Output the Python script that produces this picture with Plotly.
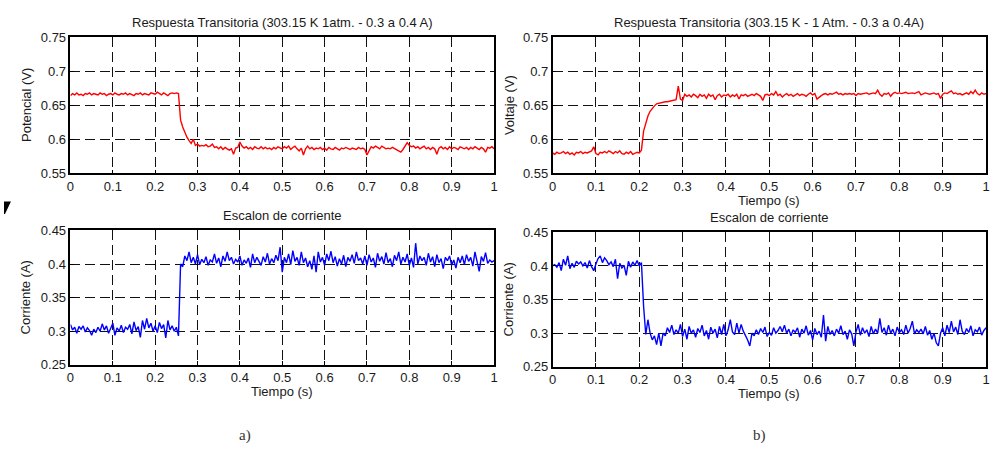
import plotly.graph_objects as go

W, H = 996, 457

# sample times (0 to 1 s, 5 ms spacing)
tiempo = [round(i * 0.005, 3) for i in range(201)]

potencial_a = [
    0.664,0.667,0.665,0.668,0.665,0.666,0.664,0.667,0.666,0.668,
    0.665,0.667,0.666,0.665,0.668,0.666,0.667,0.664,0.666,0.667,
    0.665,0.668,0.666,0.665,0.667,0.666,0.668,0.665,0.667,0.666,
    0.664,0.667,0.666,0.668,0.665,0.667,0.666,0.665,0.668,0.667,
    0.666,0.669,0.667,0.665,0.668,0.666,0.664,0.667,0.668,0.667,
    0.668,0.667,0.628,0.618,0.609,0.603,0.598,0.594,0.600,0.591,
    0.593,0.590,0.591,0.590,0.592,0.589,0.590,0.593,0.588,0.589,
    0.586,0.589,0.585,0.588,0.586,0.584,0.586,0.578,0.587,0.588,
    0.596,0.590,0.587,0.589,0.586,0.588,0.585,0.589,0.587,0.586,
    0.589,0.586,0.588,0.586,0.587,0.585,0.588,0.586,0.589,0.587,
    0.586,0.589,0.587,0.590,0.585,0.588,0.590,0.586,0.583,0.587,
    0.577,0.586,0.590,0.586,0.588,0.585,0.587,0.586,0.588,0.585,
    0.587,0.584,0.588,0.586,0.585,0.588,0.586,0.584,0.587,0.586,
    0.588,0.586,0.585,0.587,0.586,0.585,0.588,0.586,0.587,0.585,
    0.577,0.583,0.589,0.587,0.590,0.588,0.586,0.590,0.588,0.586,
    0.587,0.586,0.588,0.586,0.585,0.583,0.581,0.585,0.590,0.595,
    0.591,0.589,0.590,0.587,0.589,0.586,0.588,0.590,0.586,0.588,
    0.585,0.588,0.586,0.578,0.587,0.589,0.586,0.588,0.585,0.589,
    0.586,0.588,0.587,0.585,0.589,0.587,0.586,0.588,0.585,0.588,
    0.586,0.589,0.587,0.585,0.588,0.586,0.581,0.588,0.587,0.589,
    0.586,
]

voltaje_b = [
    0.580,0.578,0.581,0.579,0.580,0.582,0.579,0.581,0.578,0.580,
    0.577,0.581,0.580,0.582,0.579,0.581,0.580,0.582,0.583,0.589,
    0.579,0.577,0.581,0.580,0.582,0.580,0.583,0.581,0.579,0.582,
    0.580,0.583,0.579,0.578,0.581,0.579,0.582,0.578,0.580,0.581,
    0.580,0.584,0.612,0.625,0.634,0.641,0.646,0.649,0.652,0.653,
    0.654,0.654,0.655,0.655,0.656,0.656,0.657,0.658,0.678,0.659,
    0.657,0.666,0.663,0.665,0.662,0.666,0.664,0.661,0.666,0.663,
    0.665,0.660,0.666,0.663,0.665,0.658,0.664,0.666,0.662,0.665,
    0.664,0.666,0.662,0.665,0.663,0.666,0.659,0.665,0.664,0.666,
    0.663,0.665,0.666,0.664,0.667,0.665,0.663,0.657,0.665,0.666,
    0.664,0.667,0.665,0.670,0.664,0.666,0.662,0.665,0.667,0.664,
    0.666,0.663,0.665,0.667,0.664,0.666,0.665,0.663,0.666,0.668,
    0.665,0.667,0.659,0.662,0.664,0.666,0.667,0.665,0.667,0.666,
    0.667,0.669,0.666,0.667,0.665,0.667,0.666,0.667,0.666,0.667,
    0.664,0.667,0.666,0.667,0.667,0.668,0.666,0.667,0.668,0.667,
    0.672,0.666,0.663,0.667,0.666,0.668,0.663,0.667,0.669,0.667,
    0.668,0.667,0.668,0.669,0.667,0.668,0.668,0.667,0.668,0.670,
    0.665,0.667,0.668,0.667,0.666,0.667,0.668,0.666,0.667,0.660,
    0.666,0.668,0.667,0.669,0.671,0.667,0.668,0.666,0.667,0.665,
    0.667,0.668,0.666,0.670,0.667,0.672,0.667,0.665,0.668,0.666,
    0.667,
]

corriente_a = [
    0.310,0.302,0.306,0.297,0.307,0.303,0.308,0.299,0.305,0.301,
    0.294,0.303,0.298,0.306,0.300,0.311,0.302,0.308,0.297,0.304,
    0.312,0.294,0.305,0.300,0.309,0.298,0.306,0.303,0.310,0.296,
    0.314,0.301,0.307,0.291,0.316,0.303,0.319,0.305,0.312,0.300,
    0.308,0.298,0.313,0.304,0.310,0.290,0.316,0.302,0.308,0.300,
    0.306,0.293,0.400,0.396,0.412,0.405,0.418,0.402,0.410,0.400,
    0.414,0.399,0.407,0.402,0.411,0.398,0.406,0.403,0.415,0.401,
    0.409,0.396,0.412,0.404,0.418,0.405,0.410,0.400,0.407,0.403,
    0.412,0.398,0.406,0.401,0.409,0.395,0.415,0.402,0.410,0.404,
    0.398,0.411,0.403,0.416,0.400,0.408,0.402,0.413,0.405,0.425,
    0.388,0.410,0.402,0.415,0.399,0.420,0.404,0.410,0.398,0.418,
    0.402,0.409,0.396,0.405,0.392,0.412,0.388,0.418,0.403,0.410,
    0.398,0.415,0.405,0.419,0.402,0.411,0.397,0.408,0.400,0.413,
    0.396,0.410,0.404,0.414,0.401,0.418,0.405,0.409,0.400,0.412,
    0.398,0.414,0.403,0.409,0.395,0.416,0.404,0.411,0.400,0.417,
    0.402,0.408,0.396,0.413,0.405,0.418,0.400,0.410,0.403,0.415,
    0.398,0.409,0.395,0.431,0.400,0.412,0.405,0.410,0.398,0.416,
    0.403,0.411,0.396,0.414,0.402,0.408,0.393,0.410,0.405,0.412,
    0.398,0.406,0.394,0.410,0.402,0.412,0.399,0.414,0.404,0.410,
    0.397,0.418,0.402,0.389,0.411,0.404,0.417,0.401,0.406,0.403,
    0.405,
]

corriente_b = [
    0.400,0.402,0.398,0.405,0.393,0.410,0.401,0.415,0.396,0.404,
    0.398,0.407,0.403,0.406,0.400,0.405,0.397,0.408,0.399,0.393,
    0.403,0.411,0.415,0.405,0.412,0.408,0.402,0.406,0.399,0.410,
    0.381,0.404,0.397,0.401,0.386,0.407,0.398,0.406,0.401,0.408,
    0.400,0.405,0.340,0.298,0.320,0.300,0.290,0.296,0.283,0.300,
    0.281,0.300,0.296,0.308,0.301,0.312,0.298,0.305,0.300,0.313,
    0.295,0.306,0.291,0.310,0.300,0.305,0.294,0.307,0.301,0.312,
    0.296,0.304,0.291,0.309,0.300,0.306,0.293,0.310,0.298,0.313,
    0.296,0.305,0.320,0.302,0.298,0.315,0.300,0.313,0.303,0.297,
    0.290,0.281,0.300,0.296,0.305,0.298,0.307,0.301,0.309,0.295,
    0.301,0.297,0.308,0.300,0.304,0.310,0.302,0.312,0.300,0.306,
    0.296,0.305,0.301,0.308,0.294,0.306,0.300,0.311,0.297,0.304,
    0.290,0.307,0.298,0.303,0.294,0.327,0.288,0.310,0.298,0.304,
    0.296,0.306,0.300,0.311,0.298,0.303,0.291,0.305,0.299,0.281,
    0.302,0.313,0.297,0.308,0.300,0.305,0.295,0.310,0.299,0.306,
    0.300,0.322,0.301,0.308,0.297,0.312,0.300,0.306,0.296,0.309,
    0.301,0.305,0.298,0.312,0.300,0.307,0.318,0.299,0.305,0.301,
    0.306,0.299,0.310,0.297,0.304,0.291,0.300,0.286,0.281,0.300,
    0.308,0.296,0.312,0.301,0.318,0.302,0.309,0.298,0.320,0.303,
    0.298,0.307,0.301,0.311,0.296,0.305,0.302,0.309,0.297,0.304,
    0.308,
]

x_ticks = [0, 0.1, 0.2, 0.3, 0.4, 0.5, 0.6, 0.7, 0.8, 0.9, 1]
x_ticklabels = ["0", "0.1", "0.2", "0.3", "0.4", "0.5", "0.6", "0.7", "0.8", "0.9", "1"]
v_ticks = [0.55, 0.6, 0.65, 0.7, 0.75]
v_ticklabels = ["0.55", "0.6", "0.65", "0.7", "0.75"]
i_ticks = [0.25, 0.3, 0.35, 0.4, 0.45]
i_ticklabels = ["0.25", "0.3", "0.35", "0.4", "0.45"]

titles = ["Respuesta Transitoria (303.15 K 1atm. - 0.3 a 0.4 A)",
          "Respuesta Transitoria (303.15 K - 1 Atm. - 0.3 a 0.4A)",
          "Escalon de corriente", "Escalon de corriente"]
ylabels = ["Potencial (V)", "Voltaje (V)", "Corriente (A)", "Corriente (A)"]
xlabel = "Tiempo (s)"
panel_labels = ["a)", "b)"]

FONT = "Liberation Sans, Arial, sans-serif"
TXT = "#1a1a1a"

def px_x(p):
    return p / W

def px_y(p):
    return 1 - p / H

# pixel boxes: left, right, top, bottom
boxes = [(67, 494, 31, 172), (553, 990, 31, 172), (67, 494, 231, 370), (553, 990, 233, 372)]

fig = go.Figure()
series = [(potencial_a, "#ff0000"), (voltaje_b, "#ff0000"), (corriente_a, "#0000ff"), (corriente_b, "#0000ff")]
for k, (ys, col) in enumerate(series):
    sfx = "" if k == 0 else str(k + 1)
    fig.add_trace(go.Scatter(x=tiempo, y=ys, mode="lines", line=dict(color=col, width=1.4),
                             xaxis="x" + sfx, yaxis="y" + sfx, showlegend=False, hoverinfo="skip"))

axcommon = dict(showline=True, mirror=True, linecolor="black", linewidth=1.5,
                showgrid=True, gridcolor="#111", gridwidth=1.3, griddash="10px,5px",
                zeroline=False, ticks="inside", ticklen=4, tickcolor="black",
                tickfont=dict(family=FONT, size=13, color=TXT))

layout = dict(width=W, height=H, margin=dict(l=0, r=0, t=0, b=0),
              paper_bgcolor="white", plot_bgcolor="white", showlegend=False)
for k, (l, r, t, b) in enumerate(boxes):
    sfx = "" if k == 0 else str(k + 1)
    yt, ytl = (v_ticks, v_ticklabels) if k < 2 else (i_ticks, i_ticklabels)
    layout["xaxis" + sfx] = dict(domain=[px_x(l), px_x(r)], anchor="y" + sfx, range=[0, 1],
                                 tickvals=x_ticks, ticktext=x_ticklabels, **axcommon)
    layout["yaxis" + sfx] = dict(domain=[px_y(b), px_y(t)], anchor="x" + sfx,
                                 range=[yt[0], yt[-1]], tickvals=yt, ticktext=ytl, **axcommon)
fig.update_layout(**layout)

ann = []
for k, (l, r, t, b) in enumerate(boxes):
    cx = (l + r) / 2
    ann.append(dict(text=titles[k], x=px_x(cx), y=px_y(t - 15), xref="paper", yref="paper",
                    showarrow=False, font=dict(family=FONT, size=13, color=TXT),
                    xanchor="center", yanchor="middle"))
    ylx = 22 if k in (0, 2) else 509
    ann.append(dict(text=ylabels[k], x=px_x(ylx), y=px_y((t + b) / 2), xref="paper", yref="paper",
                    showarrow=False, textangle=-90, font=dict(family=FONT, size=13, color=TXT),
                    xanchor="center", yanchor="middle"))
    if k != 0:
        ann.append(dict(text=xlabel, x=px_x(cx), y=px_y(b + 28), xref="paper", yref="paper",
                        showarrow=False, font=dict(family=FONT, size=13, color=TXT),
                        xanchor="center", yanchor="middle"))
ann.append(dict(text=panel_labels[0], x=px_x(243), y=px_y(443), xref="paper", yref="paper",
                showarrow=False, font=dict(family="Liberation Serif, DejaVu Serif, serif", size=15, color="#333"),
                xanchor="center", yanchor="middle"))
ann.append(dict(text=panel_labels[1], x=px_x(762), y=px_y(443), xref="paper", yref="paper",
                showarrow=False, font=dict(family="Liberation Serif, DejaVu Serif, serif", size=15, color="#333"),
                xanchor="center", yanchor="middle"))
fig.update_layout(annotations=ann)

fig.add_shape(type="path", xref="paper", yref="paper",
              path=f"M {px_x(0)},{px_y(201)} L {px_x(7)},{px_y(201)} L {px_x(1)},{px_y(214)} L {px_x(0)},{px_y(214)} Z",
              fillcolor="black", line=dict(width=0))

fig.write_html("out.html")
